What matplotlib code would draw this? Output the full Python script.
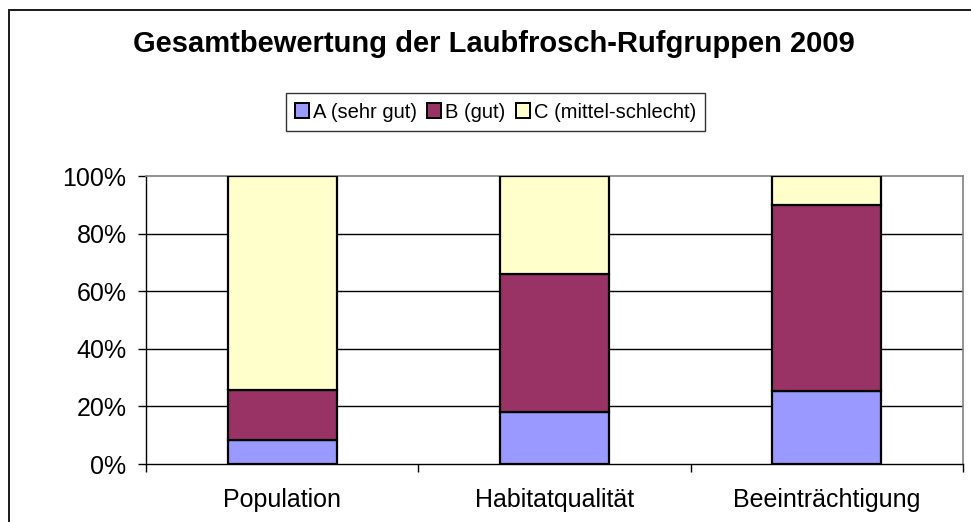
import matplotlib.pyplot as plt
from matplotlib.patches import Rectangle
from matplotlib.ticker import FuncFormatter

plt.rcParams['font.family'] = ['Liberation Sans', 'DejaVu Sans']

categories = ['Population', 'Habitatqualität', 'Beeinträchtigung']
series = ['A (sehr gut)', 'B (gut)', 'C (mittel-schlecht)']
a_vals = [8.3, 18.2, 25.5]
b_vals = [17.4, 47.8, 64.6]
c_vals = [74.3, 34.0, 9.9]
colors = ['#9999FF', '#993366', '#FFFFCC']

fig = plt.figure(figsize=(9.71, 5.22), dpi=100)
ax = fig.add_axes([146 / 971, 1 - 464 / 522, 817 / 971, 288 / 522])

x = range(len(categories))
bottom = [0, 0, 0]
for vals, name, col in zip([a_vals, b_vals, c_vals], series, colors):
    ax.bar(x, vals, width=0.4, bottom=bottom, color=col, edgecolor='black',
           linewidth=1.6, label=name, zorder=3)
    bottom = [b + v for b, v in zip(bottom, vals)]

ax.set_xlim(-0.5, 2.5)
ax.set_ylim(0, 100)
ax.set_yticks([0, 20, 40, 60, 80, 100])
ax.yaxis.set_major_formatter(FuncFormatter(lambda v, p: f'{int(v)}%'))
ax.tick_params(axis='y', length=6, width=1, pad=8, labelsize=18)

ax.set_xticks(list(x))
ax.set_xticklabels(categories)
ax.set_xticks([-0.5, 0.5, 1.5, 2.5], minor=True)
ax.tick_params(axis='x', which='major', length=0, pad=17, labelsize=18)
ax.tick_params(axis='x', which='minor', length=6, width=1)

for y in [20, 40, 60, 80]:
    ax.axhline(y, color='black', lw=1, zorder=1)

for s in ['top', 'right']:
    ax.spines[s].set_color('#808080')
    ax.spines[s].set_linewidth(1.2)
for s in ['left', 'bottom']:
    ax.spines[s].set_color('black')
    ax.spines[s].set_linewidth(1)

fig.text(0.509, 1 - 44 / 522, 'Gesamtbewertung der Laubfrosch-Rufgruppen 2009',
         ha='center', va='center', fontsize=21, fontweight='bold')

leg = fig.legend(loc='center', bbox_to_anchor=(495.5 / 971, 1 - 112 / 522), ncol=3,
                 fontsize=14.5, frameon=True, fancybox=False, handlelength=0.7,
                 handleheight=0.7, handletextpad=0.2, columnspacing=0.5,
                 borderpad=0.45, borderaxespad=0)
leg.get_frame().set_edgecolor('black')
leg.get_frame().set_linewidth(1)
for h in leg.legend_handles:
    h.set_linewidth(1.4)

fig.patches.append(Rectangle((9 / 971, -0.1), 1.0, 1.1 - 10 / 522,
                             transform=fig.transFigure, fill=False,
                             edgecolor='#1a1a1a', lw=1.4))

fig.savefig('out.png', dpi=100)
